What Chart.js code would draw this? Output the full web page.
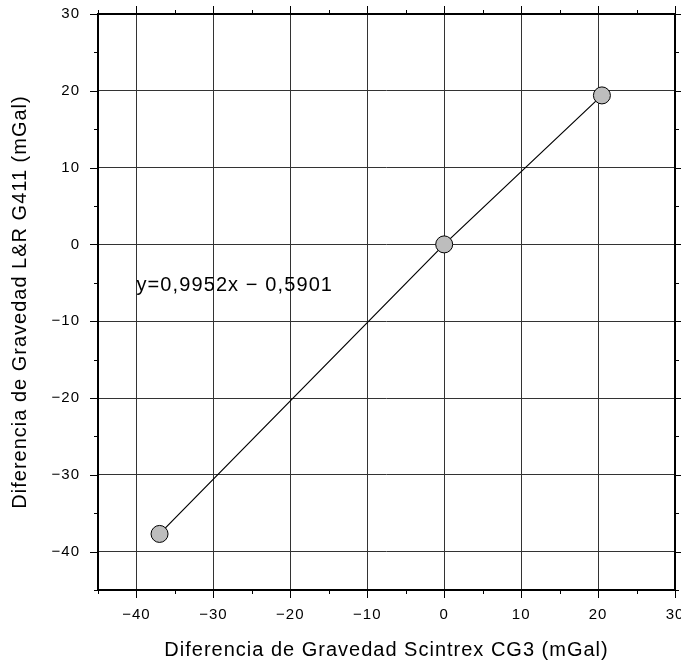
<!DOCTYPE html>
<html>
<head>
<meta charset="utf-8">
<script src="https://cdn.jsdelivr.net/npm/chart.js@4/dist/chart.umd.min.js"></script>
<style>
html,body{margin:0;padding:0;background:#fff;}
#wrap{width:681px;height:664px;}
</style>
</head>
<body>
<div id="wrap"><canvas id="c" width="681" height="664"></canvas></div>
<script>
// ---- data ----
const xValues = [-37.0, 0.0, 20.5];
const yValues = [-37.7, 0.0, 19.4];
const xTickValues = [-40, -30, -20, -10, 0, 10, 20, 30];
const yTickValues = [-40, -30, -20, -10, 0, 10, 20, 30];
const xMinorTicks = [-45, -35, -25, -15, -5, 5, 15, 25];
const yMinorTicks = [-45, -35, -25, -15, -5, 5, 15, 25];
const equationText = 'y=0,9952x \u2212 0,5901';
const equationAnchor = [-40, -5.3];
const xTitle = 'Diferencia de Gravedad Scintrex CG3 (mGal)';
const yTitle = 'Diferencia de Gravedad L&R G411 (mGal)';

const FONT = "'Liberation Sans', Arial, Helvetica, sans-serif";
const fmt = v => (v < 0 ? '\u2212' + Math.abs(v) : String(v));

const framePlugin = {
  id: 'frame',
  beforeDraw(chart) {
    chart.ctx.letterSpacing = '1px';
  },
  afterDraw(chart) {
    const {ctx, chartArea: a, scales: {x, y}} = chart;
    ctx.save();
    ctx.strokeStyle = '#000';
    ctx.lineWidth = 1;
    const major = 8, minor = 4;
    const tickX = (vals, len) => vals.forEach(v => {
      const px = Math.round(x.getPixelForValue(v)) + 0.5;
      ctx.beginPath();
      ctx.moveTo(px, a.bottom); ctx.lineTo(px, a.bottom + len);
      ctx.moveTo(px, a.top); ctx.lineTo(px, a.top - len);
      ctx.stroke();
    });
    const tickY = (vals, len) => vals.forEach(v => {
      const py = Math.round(y.getPixelForValue(v)) + 0.5;
      ctx.beginPath();
      ctx.moveTo(a.left, py); ctx.lineTo(a.left - len, py);
      ctx.moveTo(a.right, py); ctx.lineTo(a.right + len, py);
      ctx.stroke();
    });
    tickX(xTickValues, major); tickX(xMinorTicks, minor);
    tickY(yTickValues, major); tickY(yMinorTicks, minor);
    ctx.lineWidth = 2;
    ctx.strokeRect(a.left, a.top, a.right - a.left, a.bottom - a.top);
    ctx.restore();
  },
  afterDatasetsDraw(chart) {
    const {ctx, scales: {x, y}} = chart;
    ctx.save();
    ctx.letterSpacing = '1.1px';
    ctx.fillStyle = '#000';
    ctx.font = '20px ' + FONT;
    ctx.textAlign = 'left';
    ctx.textBaseline = 'middle';
    ctx.fillText(equationText, x.getPixelForValue(equationAnchor[0]), y.getPixelForValue(equationAnchor[1]));
    ctx.restore();
  }
};

new Chart(document.getElementById('c'), {
  type: 'scatter',
  data: {
    datasets: [{
      data: xValues.map((v, i) => ({x: v, y: yValues[i]})),
      showLine: true,
      borderColor: '#000',
      borderWidth: 1.2,
      pointRadius: 8.5,
      pointHoverRadius: 8.5,
      pointBackgroundColor: '#bdbdbd',
      pointBorderColor: '#000',
      pointBorderWidth: 1
    }]
  },
  options: {
    responsive: false,
    animation: false,
    devicePixelRatio: 1,
    layout: {autoPadding: false, padding: {top: 14, right: 6, left: 0, bottom: 0}},
    plugins: {legend: {display: false}, tooltip: {enabled: false}},
    scales: {
      x: {
        type: 'linear', min: -45, max: 30,
        afterBuildTicks: s => { s.ticks = xTickValues.map(v => ({value: v})); },
        afterFit: s => { s.height = 74; s.paddingLeft = 0; s.paddingRight = 0; },
        ticks: {callback: v => fmt(v), color: '#000', font: {family: FONT, size: 15}, padding: 16, maxRotation: 0, autoSkip: false},
        grid: {color: '#333', lineWidth: 1, drawTicks: false},
        border: {display: false},
        title: {display: true, text: xTitle, color: '#000', font: {family: FONT, size: 20}, padding: {top: 0, bottom: 2}}
      },
      y: {
        type: 'linear', min: -45, max: 30,
        afterBuildTicks: s => { s.ticks = yTickValues.map(v => ({value: v})); },
        afterFit: s => { s.width = 98; s.paddingTop = 0; s.paddingBottom = 0; },
        ticks: {callback: v => fmt(v), color: '#000', font: {family: FONT, size: 15}, padding: 18, autoSkip: false},
        grid: {color: '#333', lineWidth: 1, drawTicks: false},
        border: {display: false},
        title: {display: true, text: yTitle, color: '#000', font: {family: FONT, size: 20}, padding: {top: 8, bottom: 0}}
      }
    }
  },
  plugins: [framePlugin]
});
</script>
</body>
</html>
